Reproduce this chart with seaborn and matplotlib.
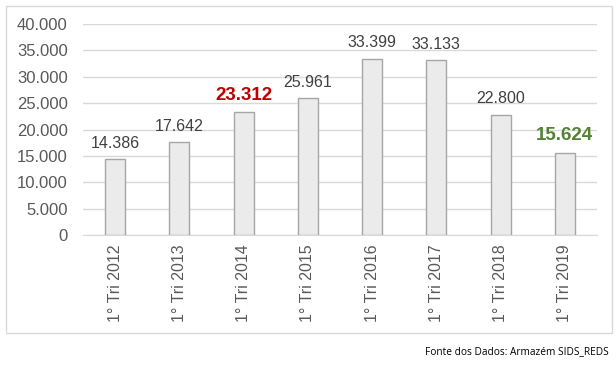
import matplotlib
matplotlib.use("Agg")
import matplotlib.pyplot as plt
import matplotlib.patches as mpatches
import seaborn as sns
import pandas as pd

# chart data
periodos = ["1° Tri 2012", "1° Tri 2013", "1° Tri 2014", "1° Tri 2015",
            "1° Tri 2016", "1° Tri 2017", "1° Tri 2018", "1° Tri 2019"]
valores = [14386, 17642, 23312, 25961, 33399, 33133, 22800, 15624]
rotulos = ["14.386", "17.642", "23.312", "25.961", "33.399", "33.133", "22.800", "15.624"]
cores_rotulo = ["#404040", "#404040", "#c00000", "#404040", "#404040", "#404040", "#404040", "#548235"]
negrito = [False, False, True, False, False, False, False, True]
yticks = [0, 5000, 10000, 15000, 20000, 25000, 30000, 35000, 40000]
ytick_labels = ["0", "5.000", "10.000", "15.000", "20.000", "25.000", "30.000", "35.000", "40.000"]

df = pd.DataFrame({"periodo": periodos, "valor": valores})

sns.set_style("white")
plt.rcParams["font.family"] = ["Liberation Sans", "DejaVu Sans"]

fig = plt.figure(figsize=(6.16, 3.69), dpi=100)
ax = fig.add_axes([83 / 616, 1 - 235 / 369, 514 / 616, 211 / 369])

sns.barplot(data=df, x="periodo", y="valor", color="#ebebeb", edgecolor="#a6a6a6",
            linewidth=1, width=0.31, saturation=1, ax=ax, zorder=3)

ax.set_ylim(0, 40000)
ax.set_xlim(-0.5, len(periodos) - 0.5)
ax.set_yticks(yticks)
ax.set_yticklabels(ytick_labels, fontsize=12, color="#595959")
ax.yaxis.grid(True, color="#d9d9d9", linewidth=1, zorder=0)
ax.set_xticks(range(len(periodos)))
ax.set_xticklabels(periodos, rotation=90, fontsize=11.5, color="#595959")
ax.tick_params(axis="y", length=0, pad=11)
ax.tick_params(axis="x", length=0, pad=7)
ax.set_xlabel("")
ax.set_ylabel("")
for s in ["top", "right", "left"]:
    ax.spines[s].set_visible(False)
ax.spines["bottom"].set_color("#d9d9d9")

for i, (v, txt) in enumerate(zip(valores, rotulos)):
    ax.annotate(txt, (i, v), xytext=(0, 6), textcoords="offset points",
                ha="center", va="bottom", color=cores_rotulo[i],
                fontsize=13.5 if negrito[i] else 11.5,
                fontweight="bold" if negrito[i] else "normal")

# outer frame of the chart
fig.patches.append(mpatches.Rectangle((6 / 616, 1 - 333 / 369), 606 / 616, 327 / 369,
                                      transform=fig.transFigure, fill=False,
                                      edgecolor="#d9d9d9", linewidth=1))

fig.text(609 / 616, 1 - 352 / 369, "Fonte dos Dados: Armazém SIDS_REDS",
         ha="right", va="center", fontsize=7.3, family="Open Sans", color="black")

fig.savefig("out.png", dpi=100)
